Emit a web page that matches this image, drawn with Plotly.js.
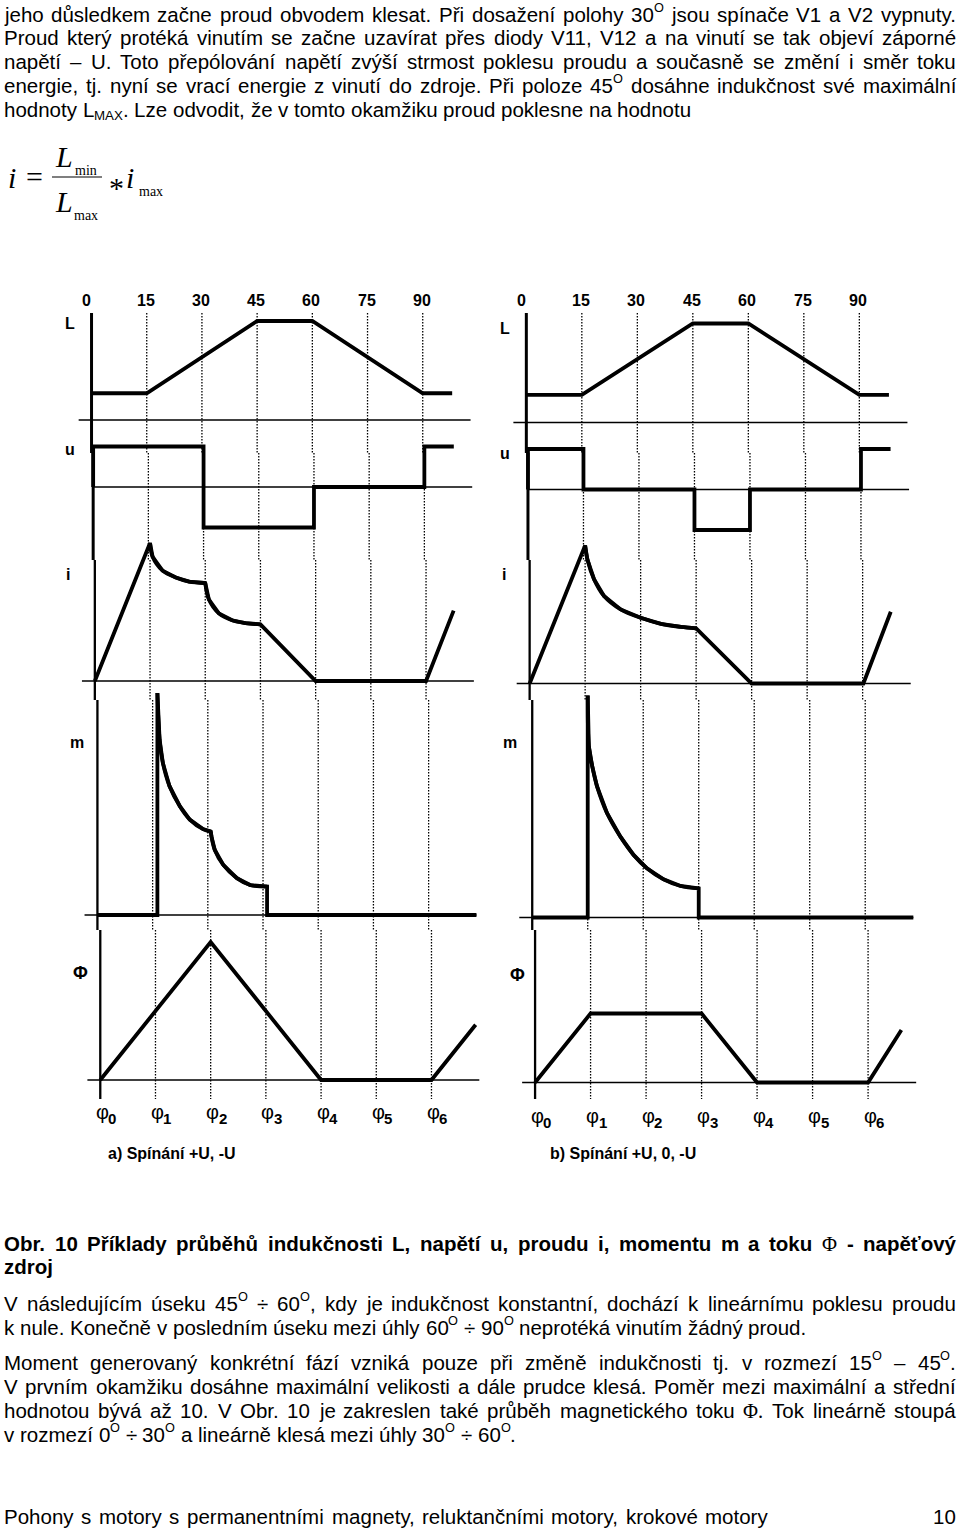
<!DOCTYPE html>
<html>
<head>
<meta charset="utf-8">
<script src="https://cdn.plot.ly/plotly-3.0.1.min.js"></script>
<style>
html,body{margin:0;padding:0;background:#fff;}
#chart{width:960px;height:1530px;}
</style>
</head>
<body>
<div id="chart"></div>
<script>
// ================= DATA =================
// angle axis (degrees of rotor position)
const angleTicks = [0, 15, 30, 45, 60, 75, 90];
const angleTickText = ['0', '15', '30', '45', '60', '75', '90'];
const gridAngles = [15, 30, 45, 60, 75, 90];
const phiSymbol = 'φ';
const phiIndex = ['0', '1', '2', '3', '4', '5', '6'];
const panelNames = ['L', 'u', 'i', 'm', 'Φ'];
const caseTitles = ['a) Spínání +U, -U', 'b) Spínání +U, 0, -U'];

// ---- case a) switching +U, -U (relative units) ----
const La_ang = [0, 15, 45, 60, 90, 98];
const La_val = [0.27, 0.27, 1, 1, 0.27, 0.27];
const ua_ang = [0, 0, 30, 30, 60, 60, 90, 90, 98];
const ua_val = [0, 1, 1, -1, -1, 0, 0, 1, 1];
const ia_ang = [0, 15, 15.7, 18.4, 22, 25.6, 30, 31, 33.7, 37.3, 40.9, 45, 60, 90, 97.5];
const ia_val = [0, 1, 0.90, 0.80, 0.75, 0.72, 0.71, 0.59, 0.49, 0.44, 0.42, 0.41, 0, 0, 0.51];
const ma_ang = [0, 16.3, 16.3, 16.9, 17.8, 19.6, 22.4, 25.1, 28.7, 30.8, 31.0, 31.9, 34.2, 37.9, 41.5, 46.1, 46.1, 103];
const ma_val = [0, 0, 1, 0.79, 0.684, 0.58, 0.49, 0.43, 0.387, 0.376, 0.353, 0.293, 0.226, 0.166, 0.135, 0.128, 0, 0];
const fa_ang = [0, 30, 60, 90, 102];
const fa_val = [0, 1, 0, 0, 0.4];

// ---- case b) switching +U, 0, -U ----
const Lb_ang = [0, 15, 45, 60, 90, 98];
const Lb_val = [0.28, 0.28, 1, 1, 0.28, 0.28];
const ub_ang = [0, 0, 15, 15, 45, 45, 60, 60, 90, 90, 98];
const ub_val = [0, 1, 1, 0, 0, -1, -1, 0, 0, 1, 1];
const ib_ang = [0, 15, 15.6, 17.4, 20.1, 24.6, 30, 35.5, 40.9, 45, 60, 90.2, 97.6];
const ib_val = [0, 1, 0.90, 0.756, 0.634, 0.537, 0.476, 0.432, 0.41, 0.40, 0, 0, 0.52];
const mb_ang = [0, 15, 15, 15.3, 16.2, 17.5, 20.2, 23.8, 27.4, 31, 35.5, 40.1, 45, 45, 103];
const mb_val = [0, 0, 1, 0.773, 0.683, 0.592, 0.471, 0.365, 0.282, 0.222, 0.172, 0.142, 0.131, 0, 0];
const fb_ang = [0, 15, 45, 60, 90, 99];
const fb_val = [0, 0.5, 0.5, 0, 0, 0.38];

// ---- page text ----
const introLines = [
  "jeho důsledkem začne proud obvodem klesat. Při dosažení polohy 30<sup>O</sup> jsou spínače V1 a V2 vypnuty.",
  "Proud který protéká vinutím se začne uzavírat přes diody V11, V12 a na vinutí se tak objeví záporné",
  "napětí – U. Toto přepólování napětí zvýší strmost poklesu proudu a současně se změní i směr toku",
  "energie, tj. nyní se vrací energie z vinutí do zdroje. Při poloze 45<sup>O</sup> dosáhne indukčnost své maximální",
  "hodnoty L<sub>MAX</sub>. Lze odvodit, že v tomto okamžiku proud poklesne na hodnotu"
];
const captionLines = [
  "Obr. 10 Příklady průběhů indukčnosti L, napětí u, proudu i, momentu m a toku Φ - napěťový",
  "zdroj"
];
const para2Lines = [
  "V následujícím úseku 45<sup>O</sup> ÷ 60<sup>O</sup>, kdy je indukčnost konstantní, dochází k lineárnímu poklesu proudu",
  "k nule. Konečně v posledním úseku mezi úhly 60<sup>O</sup> ÷ 90<sup>O</sup> neprotéká vinutím žádný proud."
];
const para3Lines = [
  "Moment generovaný konkrétní fází vzniká pouze při změně indukčnosti tj. v rozmezí 15<sup>O</sup> – 45<sup>O</sup>.",
  "V prvním okamžiku dosáhne maximální velikosti a dále prudce klesá. Poměr mezi maximální a střední",
  "hodnotou bývá až 10. V Obr. 10 je zakreslen také průběh magnetického toku Φ. Tok lineárně stoupá",
  "v rozmezí 0<sup>O</sup> ÷ 30<sup>O</sup> a lineárně klesá mezi úhly 30<sup>O</sup> ÷ 60<sup>O</sup>."
];
const footerText = "Pohony s motory s permanentními magnety, reluktančními motory, krokové motory";
const pageNumber = "10";

// ================= LAYOUT =================
const W = 960, H = 1530;
const yp = v => 1 - v / H;
const xp = v => v / W;
const SANS = 'Liberation Sans, Arial, sans-serif';
const SERIF = 'Liberation Serif, Times New Roman, serif';
const FS = 20.5;

const caseData = [
  [[La_ang, La_val], [ua_ang, ua_val], [ia_ang, ia_val], [ma_ang, ma_val], [fa_ang, fa_val]],
  [[Lb_ang, Lb_val], [ub_ang, ub_val], [ib_ang, ib_val], [mb_ang, mb_val], [fb_ang, fb_val]]
];
// index ranges of curved (smooth) stretches in each series
const curvedParts = [
  [[], [], [[1, 6], [6, 11]], [[2, 9], [9, 15]], []],
  [[], [], [[1, 9]], [[2, 12]], []]
];
// baseline px, px per unit, top px, bottom px, reference y for scan skew
const panelGeom = [
  {b: 420, s: 99, t: 300, d: 432, yc: 367},
  {b: 487, s: 40.5, t: 432, d: 545, yc: 487},
  {b: 681, s: 138, t: 530, d: 692, yc: 610},
  {b: 915, s: 222, t: 680, d: 926, yc: 800},
  {b: 1080, s: 138, t: 925, d: 1100, yc: 1010}
];
const colGeom = [
  {base: 90.8, scale: 3.68, dy: 0, tickY: 301, phiY: 1112, titleX: 172,
   labelPos: [[70, 323], [70, 449], [68, 574], [77, 742], [80, 973]]},
  {base: 525.6, scale: 3.70, dy: 2.5, tickY: 301, phiY: 1116, titleX: 623,
   labelPos: [[505, 328], [505, 453], [504, 574], [510, 742], [517, 975]]}
];
const SKEW = 10.7 / 787;
const segY = [313, 453, 560, 700, 930, 1099];

const layout = {
  width: W, height: H, margin: {l: 0, r: 0, t: 0, b: 0},
  paper_bgcolor: '#fff', plot_bgcolor: 'rgba(0,0,0,0)', showlegend: false,
  shapes: [], annotations: []
};
const traces = [];
const A = layout.annotations, S = layout.shapes;
function note(o) {
  A.push(Object.assign({showarrow: false, xanchor: 'center', yanchor: 'middle', borderpad: 0, borderwidth: 0}, o));
}

let k = 0;
colGeom.forEach((col, c) => {
  panelGeom.forEach((pg, p) => {
    k++;
    const xr = k === 1 ? 'x' : 'x' + k, yr = k === 1 ? 'y' : 'y' + k;
    const xa = k === 1 ? 'xaxis' : 'xaxis' + k, ya = k === 1 ? 'yaxis' : 'yaxis' + k;
    const off = col.base + SKEW * (pg.yc - 313);
    const xmin = -6, xmax = 106;
    layout[xa] = {domain: [xp(off + xmin * col.scale), xp(off + xmax * col.scale)], range: [xmin, xmax],
                  visible: false, anchor: yr, fixedrange: true};
    const b = pg.b + col.dy;
    layout[ya] = {domain: [yp(pg.d), yp(pg.t)], range: [(b - pg.d) / pg.s, (b - pg.t) / pg.s],
                  visible: false, anchor: xr, fixedrange: true};
    // zero line of the panel
    S.push({type: 'line', xref: xr, yref: yr, x0: p === 1 ? 0 : -3.5, x1: 103, y0: 0, y1: 0,
            line: {color: '#000', width: 1.6}});
    // dotted angle lines
    gridAngles.forEach(g => S.push({type: 'line', xref: xr, yref: 'paper', x0: g, x1: g,
      y0: yp(segY[p]), y1: yp(segY[p + 1]), line: {color: '#000', width: 1.3, dash: '1.5px,1.5px'}}));
    // vertical axis at angle 0
    S.push({type: 'line', xref: xr, yref: 'paper', x0: 0, x1: 0, y0: yp(segY[p]), y1: yp(segY[p + 1]),
            line: {color: '#000', width: p < 2 ? 3 : 2.3}});
    const d = caseData[c][p];
    traces.push({x: d[0], y: d[1], xaxis: xr, yaxis: yr, mode: 'lines', hoverinfo: 'skip',
                 line: {color: '#000', width: 3.8}});
    curvedParts[c][p].forEach(r => traces.push({x: d[0].slice(r[0], r[1] + 1), y: d[1].slice(r[0], r[1] + 1),
      xaxis: xr, yaxis: yr, mode: 'lines', hoverinfo: 'skip',
      line: {color: '#000', width: 3.8, shape: 'spline', smoothing: 1}}));
    // panel label
    note({xref: 'paper', yref: 'paper', x: xp(col.labelPos[p][0]), y: yp(col.labelPos[p][1]),
          text: panelNames[p], font: {family: SANS, size: p === 4 ? 18 : 16, weight: 'bold', color: '#000'}});
    if (p === 0) {
      angleTicks.forEach((a, i) => note({xref: xr, yref: 'paper', x: a, y: yp(col.tickY),
        text: angleTickText[i], xshift: i === 0 ? -5 : -1,
        font: {family: SANS, size: 16, weight: 'bold', color: '#000'}}));
    }
    if (p === 4) {
      angleTicks.forEach((a, i) => {
        note({xref: xr, yref: 'paper', x: a, y: yp(col.phiY), text: phiSymbol, xshift: 2,
              font: {family: SANS, size: 20, color: '#000'}});
        note({xref: xr, yref: 'paper', x: a, y: yp(col.phiY + 6), text: phiIndex[i], xshift: 12,
              font: {family: SANS, size: 15, weight: 'bold', color: '#000'}});
      });
    }
  });
  note({xref: 'paper', yref: 'paper', x: xp(col.titleX), y: yp(1153), text: caseTitles[c],
        font: {family: SANS, size: 16, weight: 'bold', color: '#000'}});
});

// ---------- justified body text ----------
const ctx = document.createElement('canvas').getContext('2d');
const PART = {n: {k: 1, rise: 0}, sup: {k: 0.62, rise: 0.46}, sub: {k: 0.65, rise: -0.16}};
function parts(word) {
  const out = []; const re = /<(sup|sub)>(.*?)<\/\1>/g; let last = 0, m;
  while ((m = re.exec(word))) {
    if (m.index > last) out.push({s: word.slice(last, m.index), kind: 'n'});
    out.push({s: m[2], kind: m[1]}); last = re.lastIndex;
  }
  if (last < word.length) out.push({s: word.slice(last), kind: 'n'});
  return out;
}
function measure(s, size, bold, fam) {
  ctx.font = (bold ? 'bold ' : '') + size + 'px "' + fam + '"';
  return ctx.measureText(s).width;
}
function setLine(text, baseline, x0, x1, justify, bold, size) {
  size = size || FS;
  const words = text.split(' ').filter(w => w.length);
  const info = words.map(w => {
    const serif = w.charAt(0) === 'Φ';
    const fam = serif ? 'Liberation Serif' : 'Liberation Sans';
    const bw = bold && !serif;
    const ps = parts(w).map(pt => {
      const sz = size * PART[pt.kind].k;
      return {s: pt.s, size: sz, rise: PART[pt.kind].rise * size, width: measure(pt.s, sz, bw, fam)};
    });
    return {serif, bw, ps, width: ps.reduce((s, o) => s + o.width, 0)};
  });
  const total = info.reduce((s, o) => s + o.width, 0);
  let gap = measure(' ', size, bold, 'Liberation Sans');
  if (justify && info.length > 1) gap = Math.max(2, (x1 - x0 - total) / (info.length - 1));
  let x = x0;
  info.forEach(o => {
    o.ps.forEach(pt => {
      note({xref: 'paper', yref: 'paper', x: xp(x), y: yp(baseline - pt.rise + 0.212 * pt.size),
        xanchor: 'left', yanchor: 'bottom', text: pt.s,
        font: {family: o.serif ? SERIF : SANS, size: pt.size, weight: o.bw ? 'bold' : 'normal', color: '#000'}});
      x += pt.width;
    });
    x += gap;
  });
}
const introBase = [22, 45, 69, 93, 117];
introLines.forEach((t, i) => setLine(t, introBase[i], 4, 956, i < 4, false));
const capBase = [1251, 1274];
captionLines.forEach((t, i) => setLine(t, capBase[i], 4, 956, i === 0, true));
const p2Base = [1311, 1335];
para2Lines.forEach((t, i) => setLine(t, p2Base[i], 4, 956, i === 0, false));
const p3Base = [1370, 1394, 1418, 1442];
para3Lines.forEach((t, i) => setLine(t, p3Base[i], 4, 956, i < 3, false));
setLine(footerText, 1524, 4, 768, true, false);
note({xref: 'paper', yref: 'paper', x: xp(956), y: yp(1524 + 0.212 * FS), xanchor: 'right', yanchor: 'bottom',
      text: pageNumber, font: {family: SANS, size: FS, color: '#000'}});

// ---------- formula i = Lmin / Lmax * imax ----------
const fml = [
  {t: 'i', x: 12, y: 177, s: 30, it: true},
  {t: '=', x: 34, y: 176, s: 30, it: false},
  {t: 'L', x: 64, y: 157, s: 30, it: true},
  {t: 'min', x: 86, y: 170, s: 14, it: false},
  {t: 'L', x: 64, y: 202, s: 30, it: true},
  {t: 'max', x: 86, y: 216, s: 14, it: false},
  {t: '*', x: 116, y: 187, s: 30, it: false},
  {t: 'i', x: 130, y: 177, s: 30, it: true},
  {t: 'max', x: 151, y: 191, s: 14, it: false}
];
fml.forEach(f => note({xref: 'paper', yref: 'paper', x: xp(f.x), y: yp(f.y), text: f.t,
  font: {family: SERIF, size: f.s, style: f.it ? 'italic' : 'normal', color: '#000'}}));
S.push({type: 'line', xref: 'paper', yref: 'paper', x0: xp(52), x1: xp(102), y0: yp(177), y1: yp(177),
        line: {color: '#000', width: 1.2}});

Plotly.newPlot('chart', traces, layout, {staticPlot: true, displayModeBar: false});
</script>
</body>
</html>
